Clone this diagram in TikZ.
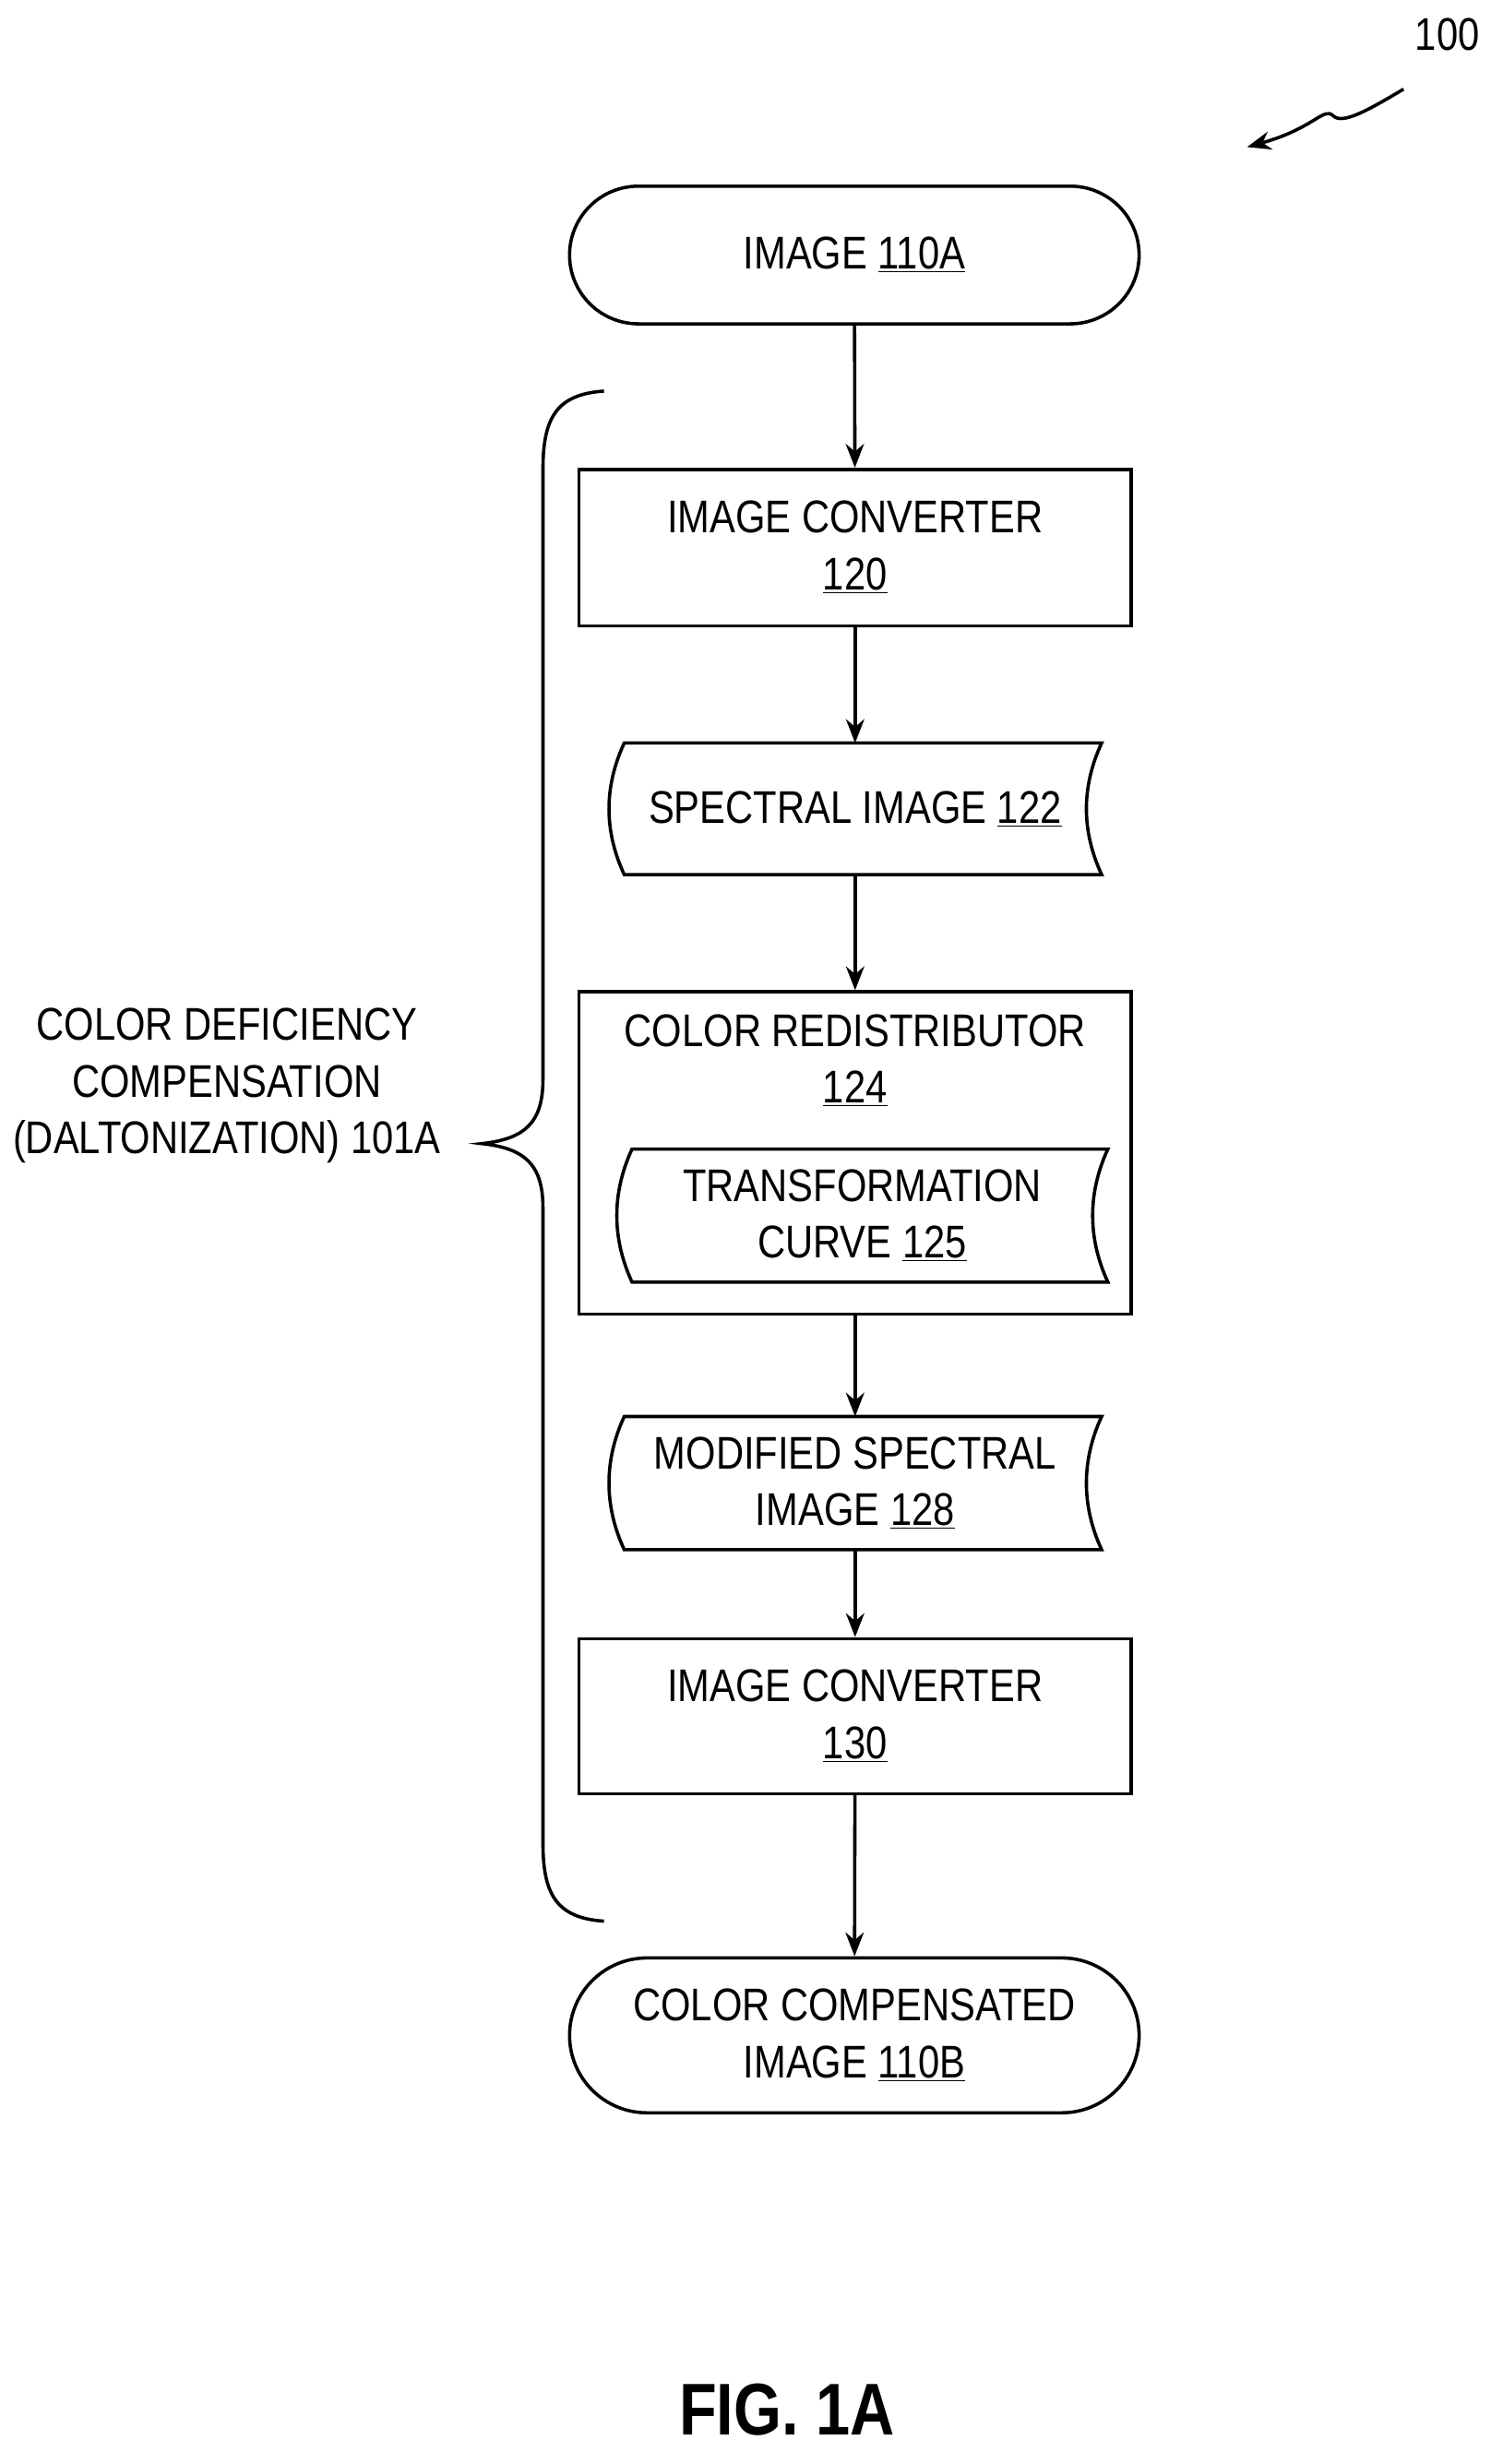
\documentclass[tikz,border=0pt]{standalone}
\usepackage{fontspec}
\setmainfont{Liberation Sans}[FakeStretch=0.84]
\usetikzlibrary{arrows.meta,shapes.misc}
\begin{document}
\begin{tikzpicture}[x=0.03cm,y=-0.03cm,line width=1.8pt,
  every node/.style={font=\fontsize{25}{31}\selectfont,align=center,inner sep=0},
  box/.style={draw,rectangle,minimum width=353*0.03cm,minimum height=100*0.03cm},
  term/.style={draw,rounded rectangle,minimum width=364*0.03cm},
  tapen/.style={minimum width=313*0.03cm,minimum height=82*0.03cm},
  arr/.style={-{Stealth[length=13pt,width=10pt]}}]
\useasboundingbox (0,0) rectangle (960,1575);
\newcommand\tapeshape[1]{%
  \draw ([xshift=10*0.03cm]#1.north west) .. controls +(-13,28) and +(-13,-28) .. ([xshift=10*0.03cm]#1.south west)
   -- (#1.south east) .. controls +(-13,-28) and +(-13,28) .. (#1.north east) -- cycle;}
\node[term,minimum height=88*0.03cm] (img) at (546,163) {IMAGE \underline{110A}};
\node[box] (c120) at (546.5,350) {IMAGE CONVERTER\\\underline{120}};
\node[tapen] (s122) at (546.5,517) {SPECTRAL IMAGE \underline{122}};
\tapeshape{s122}
\node[box,minimum height=206*0.03cm] (r124) at (546.5,737) {};
\node (r124t) at (546.5,678) {COLOR REDISTRIBUTOR\\\underline{124}};
\node[tapen,minimum width=312*0.03cm,minimum height=83*0.03cm] (t125) at (551,777) {TRANSFORMATION\\CURVE \underline{125}};
\tapeshape{t125}
\node[tapen,minimum height=83*0.03cm] (m128) at (546.5,948) {MODIFIED SPECTRAL\\IMAGE \underline{128}};
\tapeshape{m128}
\node[box,minimum height=99*0.03cm] (c130) at (546.5,1097) {IMAGE CONVERTER\\\underline{130}};
\node[term,minimum height=99*0.03cm] (out) at (546,1301) {COLOR COMPENSATED\\IMAGE \underline{110B}};
\draw[arr] (img) -- (c120);
\draw[arr] (c120) -- (s122);
\draw[arr] (s122) -- (r124);
\draw[arr] (r124) -- (m128);
\draw[arr] (m128) -- (c130);
\draw[arr] (c130) -- (out);
% brace
\coordinate (bt) at (386,250);
\coordinate (bb) at (386,1228);
\coordinate (tip) at (308,731);
\draw (bt) .. controls (355,252) and (347,268) .. (347,300) -- (347,690)
  .. controls (347,718) and (335,728) .. (tip)
  .. controls (335,734) and (347,744) .. (347,772) -- (347,1178)
  .. controls (347,1210) and (355,1226) .. (bb);
\node (lab) at (145,694) {COLOR DEFICIENCY\\COMPENSATION\\(DALTONIZATION) 101A};
\node (n100) at (925,22) {100};
\coordinate (sq) at (897,57);
\coordinate (sqe) at (797,94);
\draw[arr] (sq) .. controls (875,70) and (858,80) .. (852,74)
  .. controls (846,68) and (840,82) .. (sqe);
\node[font=\bfseries\fontsize{40}{48}\selectfont] (fig) at (503,1540) {FIG. 1A};
\end{tikzpicture}
\end{document}
